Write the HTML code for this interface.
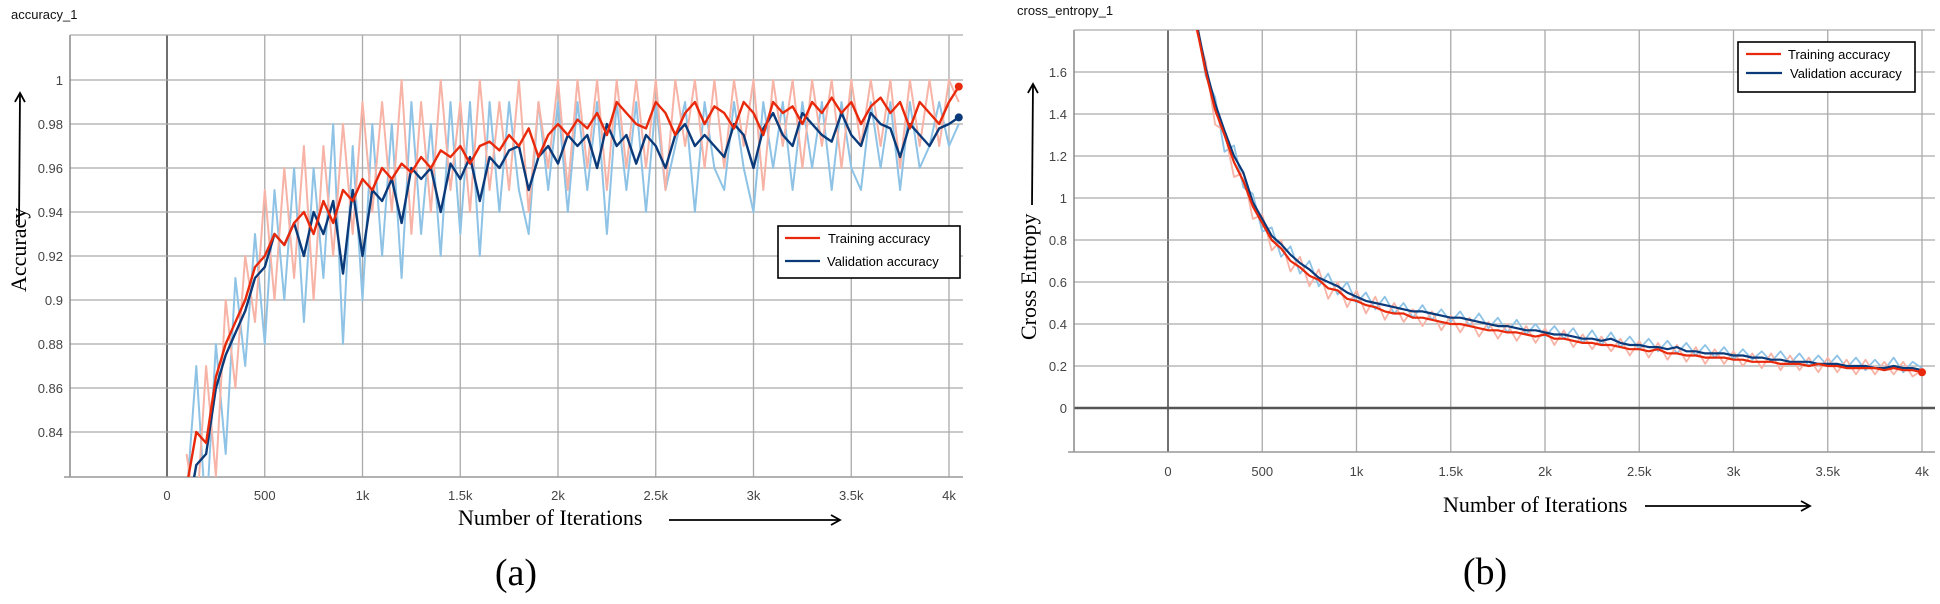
<!DOCTYPE html>
<html><head><meta charset="utf-8"><style>
html,body{margin:0;padding:0;background:#fff;}
svg{display:block;}
.tick{font-family:"Liberation Sans",sans-serif;font-size:13px;fill:#444;}
.ser{font-family:"Liberation Serif",serif;fill:#000;}
.leg{font-family:"Liberation Sans",sans-serif;font-size:13px;fill:#000;}
.ttl{font-family:"Liberation Sans",sans-serif;font-size:13px;fill:#111;}
</style></head><body>
<svg id="fig" width="1940" height="604" viewBox="0 0 1940 604" xmlns="http://www.w3.org/2000/svg">
<defs>
<clipPath id="clipA"><rect x="70" y="35" width="893" height="442"/></clipPath>
<clipPath id="clipB"><rect x="1074" y="30" width="861" height="422"/></clipPath>
<marker id="ah" markerWidth="12" markerHeight="12" refX="10" refY="6" orient="auto" markerUnits="userSpaceOnUse"><path d="M1,1 L10,6 L1,11" fill="none" stroke="#000" stroke-width="1.8"/></marker>
</defs>
<text class="ttl" x="11" y="19">accuracy_1</text>
<text class="ttl" x="1017" y="15">cross_entropy_1</text>
<g id="gridA"></g>
<g id="gridB"></g>
<g id="seriesA" clip-path="url(#clipA)"></g>
<g id="seriesB" clip-path="url(#clipB)"></g>
<g id="ticksA"></g>
<g id="ticksB"></g>

<!-- axis labels -->
<text class="ser" font-size="22" transform="translate(26,292) rotate(-90)">Accuracy</text>
<line x1="19" y1="225" x2="20" y2="93" stroke="#000" stroke-width="1.8" marker-end="url(#ah)"/>
<text class="ser" font-size="22" x="458" y="525">Number of Iterations</text>
<line x1="669" y1="520" x2="840" y2="520" stroke="#000" stroke-width="1.8" marker-end="url(#ah)"/>
<text class="ser" font-size="38" x="516" y="585" text-anchor="middle">(a)</text>

<text class="ser" font-size="22" transform="translate(1036,340) rotate(-90)">Cross Entropy</text>
<line x1="1032" y1="205" x2="1033" y2="84" stroke="#000" stroke-width="1.8" marker-end="url(#ah)"/>
<text class="ser" font-size="22" x="1443" y="512">Number of Iterations</text>
<line x1="1645" y1="506" x2="1810" y2="506" stroke="#000" stroke-width="1.8" marker-end="url(#ah)"/>
<text class="ser" font-size="38" x="1485" y="584" text-anchor="middle">(b)</text>

<!-- legends -->
<g>
<rect x="778" y="226" width="182" height="52" fill="#fff" stroke="#000" stroke-width="1.6"/>
<g><line x1="785" y1="238" x2="820" y2="238" stroke="#e8290b" stroke-width="2.2"/><text class="leg" x="828" y="243">Training accuracy</text></g>
<g><line x1="785" y1="261" x2="820" y2="261" stroke="#0a3a7a" stroke-width="2.2"/><text class="leg" x="827" y="266">Validation accuracy</text></g>
</g>
<g>
<rect x="1738" y="42" width="177" height="50" fill="#fff" stroke="#000" stroke-width="1.6"/>
<g><line x1="1746" y1="54" x2="1781" y2="54" stroke="#e8290b" stroke-width="2.2"/><text class="leg" x="1788" y="59">Training accuracy</text></g>
<g><line x1="1746" y1="73" x2="1782" y2="73" stroke="#0a3a7a" stroke-width="2.2"/><text class="leg" x="1790" y="78">Validation accuracy</text></g>
</g>
</svg>
<script>
// ---------- Chart A data (accuracy) ----------
const accStart = 100, accStep = 50;
const accTrain = [0.815,0.84,0.835,0.865,0.88,0.89,0.9,0.915,0.92,0.93,0.925,0.935,0.94,0.93,0.945,0.935,0.95,0.945,0.955,0.95,0.96,0.955,0.962,0.958,0.965,0.96,0.968,0.965,0.97,0.962,0.97,0.972,0.968,0.975,0.97,0.978,0.965,0.975,0.98,0.975,0.982,0.978,0.985,0.975,0.99,0.985,0.98,0.978,0.99,0.985,0.975,0.985,0.99,0.98,0.988,0.985,0.978,0.99,0.985,0.975,0.99,0.985,0.988,0.98,0.99,0.985,0.992,0.985,0.99,0.98,0.988,0.992,0.985,0.99,0.978,0.99,0.985,0.98,0.99,0.997];
const accVal = [0.80,0.825,0.83,0.86,0.875,0.885,0.895,0.91,0.915,0.93,0.925,0.935,0.92,0.94,0.93,0.945,0.912,0.95,0.92,0.95,0.945,0.955,0.935,0.96,0.955,0.96,0.94,0.962,0.955,0.965,0.945,0.965,0.96,0.968,0.97,0.95,0.965,0.97,0.962,0.975,0.97,0.975,0.96,0.98,0.97,0.975,0.962,0.975,0.97,0.96,0.975,0.98,0.97,0.975,0.97,0.965,0.98,0.975,0.96,0.978,0.985,0.975,0.97,0.985,0.98,0.975,0.972,0.985,0.975,0.97,0.985,0.98,0.978,0.965,0.98,0.975,0.97,0.978,0.98,0.983];
const accTrainRaw = [0.83,0.8,0.87,0.82,0.9,0.86,0.92,0.89,0.95,0.9,0.96,0.91,0.97,0.9,0.97,0.92,0.98,0.93,0.99,0.94,0.99,0.94,1.0,0.93,0.99,0.94,1.0,0.95,0.99,0.94,1.0,0.95,0.99,0.95,1.0,0.94,0.99,0.96,1.0,0.95,1.0,0.96,1.0,0.95,1.0,0.96,1.0,0.96,1.0,0.95,1.0,0.97,1.0,0.96,1.0,0.96,1.0,0.97,1.0,0.95,1.0,0.97,1.0,0.96,1.0,0.97,1.0,0.96,1.0,0.97,1.0,0.97,1.0,0.96,1.0,0.97,1.0,0.97,1.0,0.99];
const accValRaw = [0.81,0.87,0.8,0.88,0.83,0.91,0.87,0.93,0.88,0.95,0.9,0.96,0.89,0.96,0.91,0.98,0.88,0.97,0.9,0.98,0.92,0.98,0.91,0.99,0.93,0.98,0.92,0.99,0.93,0.99,0.92,0.99,0.94,0.99,0.95,0.93,0.99,0.95,0.99,0.94,0.99,0.95,0.99,0.93,0.99,0.95,0.99,0.94,0.99,0.95,0.97,0.99,0.94,0.99,0.96,0.95,0.99,0.96,0.94,0.99,0.96,0.99,0.95,0.99,0.96,0.99,0.95,0.99,0.96,0.95,0.99,0.96,0.99,0.95,0.99,0.96,0.97,0.99,0.97,0.98];
const accYTicks = [0.84,0.86,0.88,0.9,0.92,0.94,0.96,0.98,1];
const accYLabels = ["0.84","0.86","0.88","0.9","0.92","0.94","0.96","0.98","1"];
// ---------- Chart B data (cross entropy) ----------
const ceStart = 150, ceStep = 50;
const ceTrain = [1.82,1.6,1.42,1.3,1.17,1.08,0.96,0.88,0.8,0.76,0.7,0.67,0.63,0.61,0.57,0.56,0.52,0.51,0.49,0.48,0.46,0.45,0.45,0.43,0.43,0.42,0.41,0.40,0.40,0.39,0.38,0.37,0.37,0.36,0.36,0.35,0.34,0.35,0.33,0.33,0.32,0.31,0.31,0.30,0.30,0.29,0.28,0.28,0.27,0.28,0.26,0.26,0.25,0.25,0.24,0.24,0.24,0.23,0.23,0.22,0.22,0.22,0.21,0.21,0.21,0.20,0.21,0.20,0.20,0.19,0.19,0.19,0.19,0.18,0.19,0.18,0.18,0.17];
const ceVal = [1.84,1.62,1.45,1.32,1.2,1.12,0.98,0.9,0.82,0.78,0.73,0.69,0.66,0.62,0.6,0.58,0.55,0.53,0.51,0.5,0.49,0.48,0.47,0.46,0.46,0.45,0.44,0.43,0.43,0.42,0.41,0.40,0.39,0.39,0.38,0.37,0.37,0.36,0.35,0.35,0.34,0.33,0.33,0.32,0.33,0.31,0.30,0.30,0.29,0.29,0.28,0.29,0.27,0.27,0.26,0.26,0.26,0.25,0.25,0.24,0.24,0.23,0.23,0.22,0.22,0.22,0.21,0.21,0.21,0.20,0.20,0.20,0.19,0.19,0.20,0.19,0.19,0.18];
const ceTrainRaw = [1.8,1.65,1.35,1.32,1.1,1.12,0.9,0.92,0.75,0.8,0.65,0.72,0.58,0.66,0.52,0.6,0.48,0.56,0.45,0.53,0.42,0.5,0.41,0.47,0.39,0.46,0.37,0.44,0.36,0.43,0.34,0.41,0.33,0.40,0.32,0.39,0.31,0.38,0.30,0.37,0.29,0.35,0.28,0.34,0.27,0.33,0.25,0.32,0.24,0.31,0.23,0.30,0.22,0.29,0.21,0.28,0.21,0.27,0.20,0.26,0.19,0.26,0.18,0.25,0.18,0.24,0.17,0.24,0.17,0.23,0.16,0.23,0.16,0.22,0.16,0.22,0.15,0.18];
const ceValRaw = [1.85,1.58,1.48,1.22,1.25,1.05,1.02,0.84,0.86,0.72,0.77,0.64,0.7,0.58,0.64,0.54,0.6,0.5,0.55,0.47,0.53,0.45,0.5,0.43,0.49,0.42,0.47,0.41,0.46,0.39,0.45,0.38,0.43,0.36,0.42,0.35,0.4,0.34,0.39,0.33,0.38,0.31,0.37,0.3,0.36,0.29,0.34,0.28,0.33,0.27,0.32,0.26,0.31,0.25,0.30,0.24,0.29,0.23,0.28,0.23,0.27,0.22,0.27,0.21,0.26,0.2,0.25,0.2,0.25,0.19,0.24,0.18,0.23,0.18,0.24,0.17,0.22,0.19];
const ceYTicks = [0,0.2,0.4,0.6,0.8,1,1.2,1.4,1.6];
const ceYLabels = ["0","0.2","0.4","0.6","0.8","1","1.2","1.4","1.6"];
const xTicks = [0,500,1000,1500,2000,2500,3000,3500,4000];
const xLabels = ["0","500","1k","1.5k","2k","2.5k","3k","3.5k","4k"];

const NS = "http://www.w3.org/2000/svg";
function xA(v){return 167 + v*(782/4000);}
function yA(v){return 80 + (1 - v)*2200;}
function xB(v){return 1168 + v*(754/4000);}
function yB(v){return 408 - v*210;}
function mk(tag, attrs, parent){const e=document.createElementNS(NS,tag);for(const k in attrs)e.setAttribute(k,attrs[k]);parent.appendChild(e);return e;}

function drawGrid(g, xf, yf, L, R, T, B, yTicks, zeroIsAxisY){
  for(const t of xTicks){
    const l=mk('line',{x1:xf(t),x2:xf(t),y1:T,y2:B,stroke:t===0?'#333':'#aaa','stroke-width':t===0?1.4:1.3},g);
    
    
  }
  for(const t of yTicks){
    const z = zeroIsAxisY && t===0;
    const l=mk('line',{x1:L,x2:R,y1:yf(t),y2:yf(t),stroke:z?'#555':'#aaa','stroke-width':z?2.5:1.3},g);
    
    
  }
  const bl=mk('line',{x1:L,x2:L,y1:T,y2:B,stroke:'#888','stroke-width':1.5},g);
  
  
  const tl=mk('line',{x1:L,x2:R,y1:T,y2:T,stroke:'#aaa','stroke-width':1.3},g);
  
  
  const bb=mk('line',{x1:L-6,x2:R,y1:B,y2:B,stroke:'#999','stroke-width':1.5},g);
  
  
}
function drawTicks(g, xf, yf, L, B, yTicks, yLabels, xLabY){
  yTicks.forEach((t,i)=>{
    const tx=mk('text',{x:L-7,y:yf(t)+5,'text-anchor':'end',class:'tick'},g);
    tx.textContent=yLabels[i];
    
    
  });
  xTicks.forEach((t,i)=>{
    const tx=mk('text',{x:xf(t),y:xLabY,'text-anchor':'middle',class:'tick'},g);
    tx.textContent=xLabels[i];
    
    
  });
}
function line(g, xs, vals, start, step, xf, yf, color, w, name){
  const pts = vals.map((v,i)=>xf(start+i*step).toFixed(1)+','+yf(v).toFixed(1)).join(' ');
  const p=mk('polyline',{points:pts,fill:'none',stroke:color,'stroke-width':w,'stroke-linejoin':'round'},g);
  
  
}
const gA=document.getElementById('gridA'), gB=document.getElementById('gridB');
drawGrid(gA,xA,yA,70,963,35,477,accYTicks,false);
drawGrid(gB,xB,yB,1074,1935,30,452,ceYTicks,true);
drawTicks(document.getElementById('ticksA'),xA,yA,70,477,accYTicks,accYLabels,500);
drawTicks(document.getElementById('ticksB'),xB,yB,1074,452,ceYTicks,ceYLabels,476);

const sA=document.getElementById('seriesA'), sB=document.getElementById('seriesB');
line(sA,null,accValRaw,accStart,accStep,xA,yA,'#8ec3e6',2,'validation-raw-line');
line(sA,null,accTrainRaw,accStart,accStep,xA,yA,'#f7b3a6',2,'training-raw-line');
line(sA,null,accVal,accStart,accStep,xA,yA,'#0a3a7a',2.4,'validation-line');
line(sA,null,accTrain,accStart,accStep,xA,yA,'#e8290b',2.4,'training-line');
line(sB,null,ceValRaw,ceStart,ceStep,xB,yB,'#8ec3e6',1.8,'validation-raw-line-b');
line(sB,null,ceTrainRaw,ceStart,ceStep,xB,yB,'#f7b3a6',1.8,'training-raw-line-b');
line(sB,null,ceVal,ceStart,ceStep,xB,yB,'#0a3a7a',2.2,'validation-line-b');
line(sB,null,ceTrain,ceStart,ceStep,xB,yB,'#e8290b',2.2,'training-line-b');

const endA=accStart+(accTrain.length-1)*accStep;
const d1=mk('circle',{cx:xA(endA),cy:yA(accTrain[accTrain.length-1]),r:4,fill:'#e8290b'},document.getElementById('fig'));


const endV=accStart+(accVal.length-1)*accStep;
const d2=mk('circle',{cx:xA(endV),cy:yA(accVal[accVal.length-1]),r:4,fill:'#0a3a7a'},document.getElementById('fig'));


const endB=ceStart+(ceTrain.length-1)*ceStep;
const d3=mk('circle',{cx:xB(endB),cy:yB(ceTrain[ceTrain.length-1]),r:4,fill:'#e8290b'},document.getElementById('fig'));


</script>
</body></html>
